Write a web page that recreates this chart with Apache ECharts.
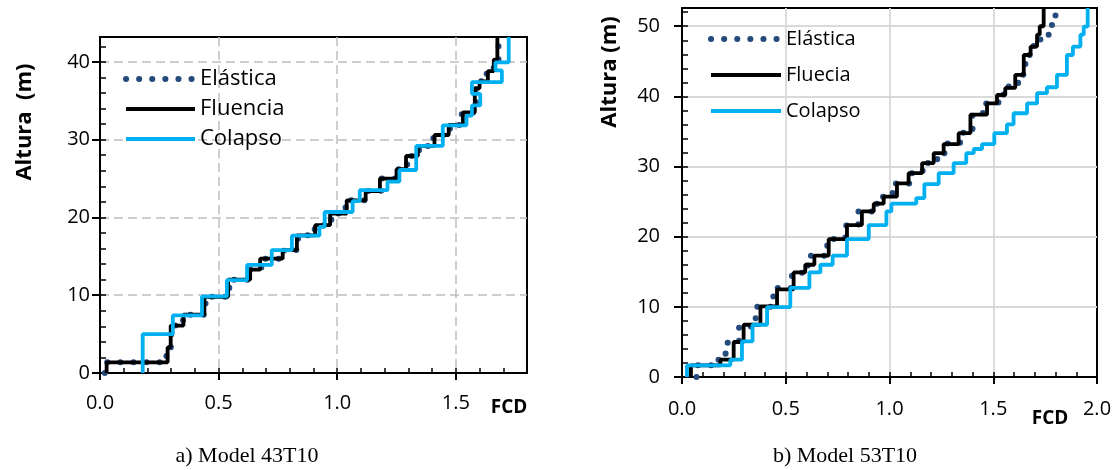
<!DOCTYPE html>
<html><head><meta charset="utf-8">
<script src="https://cdn.jsdelivr.net/npm/echarts@6/dist/echarts.min.js"></script>
<style>html,body{margin:0;padding:0;background:#fff}#c{width:1115px;height:470px}</style>
</head><body><div id="c"></div>
<script>
const FONT = '"Open Sans", "Noto Sans", sans-serif';
const SERIF = '"Liberation Serif", "DejaVu Serif", serif';

// ---------- Chart a) Model 43T10 ----------
const namesA = ['Elástica', 'Fluencia', 'Colapso'];
const elasticaA_fcd = [0.02, 0.28, 0.30, 0.35, 0.445, 0.545, 0.63, 0.68, 0.775, 0.835, 0.905, 0.975, 1.035, 1.125, 1.185, 1.245, 1.295, 1.345, 1.405, 1.475, 1.525, 1.585, 1.60, 1.63, 1.66, 1.68];
const elasticaA_h   = [0, 1.37, 3.3, 6.1, 7.5, 9.8, 12.0, 13.3, 14.7, 15.8, 17.7, 19.0, 20.5, 22.2, 23.4, 25.0, 26.2, 27.9, 29.2, 30.6, 31.9, 33.5, 36.6, 37.5, 38.8, 40.3, 43.2];
const fluenciaA_fcd = [0.028, 0.285, 0.298, 0.352, 0.44, 0.54, 0.633, 0.675, 0.77, 0.83, 0.907, 0.97, 1.04, 1.12, 1.18, 1.25, 1.29, 1.34, 1.41, 1.47, 1.53, 1.58, 1.60, 1.635, 1.66, 1.675];
const fluenciaA_h   = [0, 1.37, 3.3, 6.1, 7.5, 9.8, 12.0, 13.3, 14.7, 15.8, 17.7, 19.0, 20.5, 22.2, 23.4, 25.0, 26.2, 27.9, 29.2, 30.6, 31.9, 33.5, 36.6, 37.5, 38.8, 40.3, 43.2];
const colapsoA_fcd  = [0.18, 0.307, 0.43, 0.535, 0.62, 0.724, 0.809, 0.925, 0.947, 1.065, 1.095, 1.212, 1.262, 1.333, 1.445, 1.545, 1.568, 1.603, 1.568, 1.694, 1.667, 1.723];
const colapsoA_h    = [0, 5.0, 7.4, 9.85, 11.95, 13.9, 15.8, 17.65, 18.8, 20.7, 22.1, 23.5, 24.6, 26.1, 29.2, 31.85, 33.1, 34.4, 35.9, 37.4, 38.9, 39.95, 43.2];
const axisA = { xMax: 1.8, yMax: 43.2, xStep: 0.5, yStep: 10, xMinor: 0.1, yMinor: 2 };

// ---------- Chart b) Model 53T10 ----------
const namesB = ['Elástica', 'Fluecia', 'Colapso'];
const elasticaB_fcd = [0.07, 0.17, 0.21, 0.275, 0.355, 0.44, 0.53, 0.578, 0.62, 0.70, 0.787, 0.85, 0.93, 0.964, 1.015, 1.10, 1.16, 1.23, 1.27, 1.34, 1.40, 1.45, 1.525, 1.55, 1.62, 1.655, 1.695, 1.725, 1.767, 1.783, 1.80];
const elasticaB_h   = [0, 1.66, 2.47, 4.9, 7.2, 10.0, 12.7, 14.6, 15.9, 17.3, 19.66, 21.6, 23.6, 24.7, 25.7, 27.6, 29.06, 30.5, 31.9, 33.3, 34.8, 37.4, 39.0, 40.2, 41.4, 43.07, 45.9, 47.3, 48.1, 49.9, 51.2, 52.6];
const fluenciaB_fcd = [0.043, 0.185, 0.249, 0.297, 0.378, 0.458, 0.538, 0.594, 0.638, 0.707, 0.795, 0.867, 0.924, 0.972, 1.036, 1.092, 1.157, 1.213, 1.261, 1.333, 1.39, 1.47, 1.518, 1.558, 1.606, 1.647, 1.68, 1.711, 1.724, 1.743];
const fluenciaB_h   = [0, 1.66, 2.47, 4.99, 7.45, 10.07, 12.5, 14.9, 16.0, 17.3, 19.66, 21.65, 23.6, 24.7, 25.7, 27.6, 29.06, 30.5, 31.9, 33.2, 34.76, 37.4, 39.0, 40.2, 41.2, 43.07, 45.9, 47.1, 48.8, 50.0, 52.6];
const colapsoB_fcd  = [0.024, 0.233, 0.289, 0.34, 0.41, 0.522, 0.614, 0.667, 0.726, 0.795, 0.9, 0.985, 1.009, 1.129, 1.168, 1.237, 1.309, 1.37, 1.406, 1.446, 1.505, 1.566, 1.598, 1.663, 1.711, 1.759, 1.807, 1.855, 1.884, 1.92, 1.936, 1.955];
const colapsoB_h    = [0, 1.66, 2.47, 5.08, 7.45, 9.97, 12.7, 14.9, 16.0, 17.3, 19.66, 21.65, 23.6, 24.7, 25.5, 27.5, 29.06, 30.5, 31.9, 32.5, 33.2, 34.76, 36.0, 37.6, 39.0, 40.46, 41.3, 43.07, 45.9, 47.1, 48.8, 49.95, 52.6];
const axisB = { xMax: 2.0, yMax: 52.6, xStep: 0.5, yStep: 10, xMinor: 0.1, yMinor: 2 };

// storey profile: each FCD value holds between two consecutive heights
function stair(fcd, h) {
  const pts = [];
  for (let i = 0; i < fcd.length; i++) { pts.push([fcd[i], h[i]]); pts.push([fcd[i], h[i + 1]]); }
  return pts;
}

const COL_EL = '#254a7c', COL_FL = '#000000', COL_CO = '#00b0f0';
const styleEl = { color: COL_EL, width: 6, type: [0.1, 13], cap: 'round' };
const styleFl = { color: COL_FL, width: 3.8 };
const styleCo = { color: COL_CO, width: 3.8 };

function splitStyle(dashed) {
  return { show: true, showMinLine: false, showMaxLine: false,
    lineStyle: dashed ? { color: '#bfbfbf', width: 1.5, type: [9, 5] } : { color: '#d9d9d9', width: 1.8 } };
}
function mainX(g, ax, showMax, labelMargin, dashed) {
  return {
    type: 'value', gridIndex: g, position: 'bottom', min: 0, max: ax.xMax, interval: ax.xStep,
    axisLine: { show: true, onZero: false, lineStyle: { color: '#000', width: 2 } },
    axisTick: { show: true, length: 7, lineStyle: { color: '#000', width: 2 } },
    axisLabel: { color: '#000', fontSize: 20, fontFamily: FONT, margin: labelMargin, showMaxLabel: showMax, formatter: v => v.toFixed(1) },
    splitLine: splitStyle(dashed)
  };
}
function minorX(g, ax) {
  return {
    type: 'value', gridIndex: g, position: 'bottom', min: 0, max: ax.xMax, interval: ax.xMinor,
    axisLine: { show: false }, axisLabel: { show: false }, splitLine: { show: false },
    axisTick: { show: true, inside: true, length: 5, lineStyle: { color: '#000', width: 1.5 } }
  };
}
function mainY(g, ax, labelMargin, dashed) {
  return {
    type: 'value', gridIndex: g, position: 'left', min: 0, max: ax.yMax, interval: ax.yStep,
    axisLine: { show: true, onZero: false, lineStyle: { color: '#000', width: 2 } },
    axisTick: { show: true, length: 8, lineStyle: { color: '#000', width: 2 } },
    axisLabel: { color: '#000', fontSize: 20, fontFamily: FONT, margin: labelMargin, showMaxLabel: false },
    splitLine: splitStyle(dashed)
  };
}
function minorY(g, ax) {
  return {
    type: 'value', gridIndex: g, position: 'left', min: 0, max: ax.yMax, interval: ax.yMinor,
    axisLine: { show: false }, axisLabel: { show: false }, splitLine: { show: false },
    axisTick: { show: true, inside: true, length: 6, lineStyle: { color: '#000', width: 1.5 } }
  };
}
function ser(name, xi, yi, fcd, h, ls, z) {
  return { type: 'line', name: name, xAxisIndex: xi, yAxisIndex: yi, data: stair(fcd, h),
    symbol: 'none', showSymbol: false, lineStyle: ls, itemStyle: { color: ls.color }, z: z, animation: false };
}
const legendStyles = [styleEl, styleFl, styleCo];
function legend(names, left, top, w, gap, fs) {
  return {
    orient: 'vertical', left: left, top: top, itemWidth: w, itemHeight: 14, itemGap: gap,
    selectedMode: false, padding: 0,
    itemStyle: { color: 'rgba(0,0,0,0)', borderWidth: 0 },
    textStyle: { fontSize: fs, fontFamily: FONT, color: '#000' },
    data: names.map((n, i) => ({ name: n, lineStyle: Object.assign({}, legendStyles[i]), itemStyle: { color: 'rgba(0,0,0,0)', borderWidth: 0 } }))
  };
}

const chart = echarts.init(document.getElementById('c'), null, { renderer: 'canvas' });
chart.setOption({
  animation: false,
  backgroundColor: '#fff',
  grid: [
    { left: 100, top: 37, width: 427, height: 336, show: true, borderColor: '#000', borderWidth: 2, backgroundColor: 'rgba(0,0,0,0)' },
    { left: 682, top: 8, width: 415, height: 369, show: true, borderColor: '#000', borderWidth: 2, backgroundColor: 'rgba(0,0,0,0)' }
  ],
  xAxis: [ mainX(0, axisA, false, 20, true), minorX(0, axisA), mainX(1, axisB, true, 22, false), minorX(1, axisB) ],
  yAxis: [ mainY(0, axisA, 10, true), minorY(0, axisA), mainY(1, axisB, 22, false), minorY(1, axisB) ],
  legend: [
    legend(namesA, 123, 68, 69, 8, 22),
    legend(namesB, 708, 29, 70, 16, 20)
  ],
  series: [
    ser(namesA[0], 0, 0, elasticaA_fcd, elasticaA_h, styleEl, 2),
    ser(namesA[1], 0, 0, fluenciaA_fcd, fluenciaA_h, styleFl, 3),
    ser(namesA[2], 0, 0, colapsoA_fcd, colapsoA_h, styleCo, 4),
    ser(namesB[0], 2, 2, elasticaB_fcd, elasticaB_h, styleEl, 2),
    ser(namesB[1], 2, 2, fluenciaB_fcd, fluenciaB_h, styleFl, 3),
    ser(namesB[2], 2, 2, colapsoB_fcd, colapsoB_h, styleCo, 4)
  ],
  graphic: [
    { type: 'text', x: 25, y: 122, rotation: Math.PI / 2, style: { text: 'Altura  (m)', font: 'bold 22px ' + FONT, fill: '#000', textAlign: 'center', textVerticalAlign: 'middle' } },
    { type: 'text', x: 509, y: 408, style: { text: 'FCD', font: 'bold 19px ' + FONT, fill: '#000', textAlign: 'center', textVerticalAlign: 'middle' } },
    { type: 'text', x: 247, y: 456, style: { text: 'a) Model 43T10', font: '22px ' + SERIF, fill: '#000', textAlign: 'center', textVerticalAlign: 'middle' } },
    { type: 'text', x: 610, y: 72, rotation: Math.PI / 2, style: { text: 'Altura (m)', font: 'bold 22px ' + FONT, fill: '#000', textAlign: 'center', textVerticalAlign: 'middle' } },
    { type: 'text', x: 1050, y: 419, style: { text: 'FCD', font: 'bold 19px ' + FONT, fill: '#000', textAlign: 'center', textVerticalAlign: 'middle' } },
    { type: 'text', x: 845, y: 456, style: { text: 'b) Model 53T10', font: '22px ' + SERIF, fill: '#000', textAlign: 'center', textVerticalAlign: 'middle' } }
  ]
});
</script></body></html>
